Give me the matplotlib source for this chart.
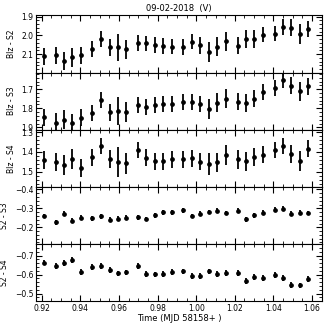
import matplotlib
matplotlib.use('Agg')
import matplotlib.pyplot as plt
from matplotlib.ticker import MultipleLocator, AutoMinorLocator, FormatStrFormatter

# time (MJD - 58158)
t = [0.9212, 0.9272, 0.9315, 0.9359, 0.9402, 0.9462, 0.9507, 0.9551, 0.9594, 0.9638,
     0.9697, 0.9741, 0.9785, 0.9828, 0.9874, 0.9933, 0.9977, 1.0020, 1.0064, 1.0109,
     1.0156, 1.0214, 1.0258, 1.0301, 1.0347, 1.0406, 1.0450, 1.0493, 1.0537, 1.0581]

blz_s2 = [2.112, 2.105, 2.137, 2.116, 2.105, 2.072, 2.019, 2.063, 2.063, 2.075,
          2.040, 2.042, 2.051, 2.056, 2.060, 2.061, 2.033, 2.053, 2.089, 2.061,
          2.032, 2.054, 2.019, 2.019, 1.996, 1.991, 1.956, 1.958, 1.991, 1.967]
blz_s2_err = [0.044, 0.045, 0.050, 0.050, 0.045, 0.042, 0.042, 0.045, 0.073, 0.053,
              0.042, 0.041, 0.042, 0.041, 0.041, 0.043, 0.042, 0.044, 0.054, 0.050,
              0.049, 0.046, 0.046, 0.046, 0.040, 0.040, 0.042, 0.045, 0.053, 0.044]

blz_s3 = [1.847, 1.875, 1.861, 1.877, 1.850, 1.824, 1.758, 1.820, 1.813, 1.820,
          1.781, 1.794, 1.783, 1.776, 1.776, 1.767, 1.769, 1.778, 1.803, 1.771,
          1.750, 1.765, 1.771, 1.750, 1.716, 1.695, 1.652, 1.681, 1.711, 1.686]
blz_s3_err = [0.044, 0.048, 0.050, 0.048, 0.044, 0.042, 0.042, 0.044, 0.073, 0.053,
              0.042, 0.042, 0.042, 0.042, 0.042, 0.042, 0.042, 0.042, 0.054, 0.050,
              0.049, 0.046, 0.048, 0.045, 0.042, 0.041, 0.040, 0.046, 0.050, 0.044]

blz_s4 = [1.441, 1.450, 1.467, 1.434, 1.479, 1.428, 1.371, 1.436, 1.450, 1.457,
          1.391, 1.429, 1.447, 1.447, 1.438, 1.438, 1.433, 1.450, 1.462, 1.453,
          1.416, 1.438, 1.447, 1.426, 1.414, 1.390, 1.369, 1.410, 1.445, 1.384]
blz_s4_err = [0.045, 0.045, 0.050, 0.050, 0.045, 0.043, 0.042, 0.045, 0.074, 0.053,
              0.042, 0.042, 0.042, 0.042, 0.042, 0.042, 0.042, 0.043, 0.055, 0.050,
              0.050, 0.047, 0.048, 0.045, 0.043, 0.042, 0.040, 0.046, 0.050, 0.044]

s2_s3 = [-0.260, -0.228, -0.273, -0.235, -0.250, -0.248, -0.258, -0.241, -0.246, -0.251,
         -0.253, -0.244, -0.265, -0.280, -0.280, -0.290, -0.260, -0.273, -0.281, -0.287,
         -0.276, -0.287, -0.242, -0.264, -0.278, -0.294, -0.299, -0.273, -0.278, -0.276]
s2_s3_err = [0.013] * 30

s2_s4 = [-0.663, -0.646, -0.660, -0.677, -0.615, -0.639, -0.646, -0.625, -0.606, -0.611,
         -0.646, -0.604, -0.601, -0.604, -0.613, -0.617, -0.594, -0.594, -0.617, -0.603,
         -0.608, -0.610, -0.566, -0.589, -0.582, -0.597, -0.582, -0.545, -0.543, -0.577]
s2_s4_err = [0.015] * 30

labels = ['Blz - S2', 'Blz - S3', 'Blz - S4', 'S2 - S3', 'S2 - S4']
series = [blz_s2, blz_s3, blz_s4, s2_s3, s2_s4]
errors = [blz_s2_err, blz_s3_err, blz_s4_err, s2_s3_err, s2_s4_err]
ylims = [(2.198, 1.893), (1.912, 1.613), (1.576, 1.288), (-0.112, -0.414), (-0.46, -0.761)]

fig, axes = plt.subplots(5, 1, sharex=True, figsize=(3.27, 3.27), dpi=100)
fig.subplots_adjust(left=0.11, right=0.985, top=0.953, bottom=0.079, hspace=0)

for ax, y, e, lab, lim in zip(axes, series, errors, labels, ylims):
    ax.errorbar(t, y, yerr=e, fmt='o', color='k', ms=2.4, elinewidth=1.3, capsize=0)
    ax.set_ylim(*lim)
    ax.set_ylabel(lab, fontsize=5.5)
    ax.yaxis.set_major_locator(MultipleLocator(0.1))
    ax.yaxis.set_minor_locator(AutoMinorLocator(5))
    ax.xaxis.set_major_locator(MultipleLocator(0.02))
    ax.xaxis.set_minor_locator(MultipleLocator(0.005))
    ax.tick_params(which='both', direction='in', top=True, right=True, labelsize=5.5, pad=2)
    ax.tick_params(which='major', length=4)
    ax.tick_params(which='minor', length=2)

axes[0].set_xlim(0.917, 1.0652)
axes[0].set_title('09-02-2018  (V)', fontsize=6, pad=3)
axes[-1].set_xlabel('Time (MJD 58158+ )', fontsize=6, labelpad=1)
axes[-1].xaxis.set_major_formatter(FormatStrFormatter('%.2f'))

fig.savefig('out.png', dpi=100)
